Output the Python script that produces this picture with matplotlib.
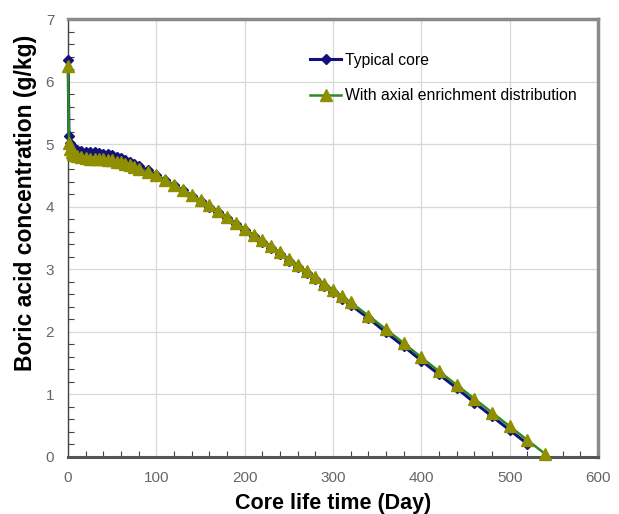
import matplotlib
matplotlib.use("Agg")
import matplotlib.pyplot as plt
from matplotlib.ticker import MultipleLocator

days_typical = [0, 1, 2, 4, 6, 8, 10, 15, 20, 25, 30, 35, 40, 45, 50, 55, 60, 65, 70, 75, 80,
                90, 100, 110, 120, 130, 140, 150, 160, 170, 180, 190, 200, 210, 220, 230, 240,
                250, 260, 270, 280, 290, 300, 310, 320, 340, 360, 380, 400, 420, 440, 460, 480,
                500, 520]
boric_typical = [6.35, 5.13, 5.02, 4.97, 4.94, 4.92, 4.91, 4.89, 4.88, 4.87, 4.87, 4.86, 4.85,
                 4.84, 4.82, 4.80, 4.78, 4.75, 4.72, 4.68, 4.65, 4.58, 4.50, 4.42, 4.34, 4.26,
                 4.17, 4.09, 4.00, 3.91, 3.82, 3.72, 3.62, 3.53, 3.43, 3.34, 3.24, 3.14, 3.04,
                 2.94, 2.84, 2.74, 2.63, 2.53, 2.43, 2.22, 1.99, 1.77, 1.54, 1.32, 1.10, 0.87,
                 0.65, 0.43, 0.21]

days_axial = [0, 1, 2, 4, 6, 8, 10, 15, 20, 25, 30, 35, 40, 45, 50, 55, 60, 65, 70, 75, 80,
              90, 100, 110, 120, 130, 140, 150, 160, 170, 180, 190, 200, 210, 220, 230, 240,
              250, 260, 270, 280, 290, 300, 310, 320, 340, 360, 380, 400, 420, 440, 460, 480,
              500, 520, 540]
boric_axial = [6.25, 5.02, 4.93, 4.88, 4.85, 4.83, 4.81, 4.79, 4.78, 4.77, 4.77, 4.76, 4.76,
               4.75, 4.74, 4.72, 4.71, 4.69, 4.67, 4.64, 4.61, 4.56, 4.50, 4.43, 4.35, 4.27,
               4.19, 4.10, 4.02, 3.93, 3.84, 3.74, 3.65, 3.55, 3.46, 3.37, 3.27, 3.17, 3.07,
               2.97, 2.87, 2.77, 2.67, 2.57, 2.47, 2.26, 2.04, 1.82, 1.59, 1.37, 1.15, 0.93,
               0.71, 0.49, 0.27, 0.05]

xticks = [0, 100, 200, 300, 400, 500, 600]
yticks = [0, 1, 2, 3, 4, 5, 6, 7]

plt.rcParams['font.family'] = ['Liberation Sans', 'DejaVu Sans']

fig = plt.figure(figsize=(6.19, 5.14), dpi=100)
ax = fig.add_axes([0.110, 0.111, 0.856, 0.852])

ax.plot(days_typical, boric_typical, color='#12127a', lw=2.2, marker='D', ms=4.8,
        mfc='#12127a', mec='#12127a', label='Typical core', zorder=3, clip_on=False)
ax.plot(days_axial, boric_axial, color='#2e8b22', lw=1.8, marker='^', ms=8,
        mfc='#8f8f00', mec='#8f8f00', label='With axial enrichment distribution',
        zorder=4, clip_on=False)

ax.set_xlim(0, 600)
ax.set_ylim(0, 7)
ax.set_xticks(xticks)
ax.set_yticks(yticks)
ax.xaxis.set_minor_locator(MultipleLocator(20))
ax.yaxis.set_minor_locator(MultipleLocator(0.2))
ax.grid(True, which='major', color='#d8d8d8', lw=0.9, zorder=0)
ax.set_axisbelow(True)

ax.tick_params(which='both', direction='in', top=False, right=False,
               colors='#444444', labelcolor='#666666')
ax.tick_params(which='major', length=0)
ax.tick_params(axis='x', which='major', pad=10)
ax.tick_params(axis='y', which='major', pad=10)
ax.tick_params(which='minor', length=4, width=0.8)
for lab in ax.get_xticklabels() + ax.get_yticklabels():
    lab.set_fontsize(11)

for side in ['top', 'right']:
    ax.spines[side].set_color('#8a8a8a')
    ax.spines[side].set_linewidth(2.5)
ax.spines['bottom'].set_color('#555555')
ax.spines['bottom'].set_linewidth(2.2)
ax.spines['left'].set_color('#444444')
ax.spines['left'].set_linewidth(1.0)

ax.set_xlabel('Core life time (Day)', fontsize=15.5, fontweight='bold')
ax.set_ylabel('Boric acid concentration (g/kg)', fontsize=16.5, fontweight='bold')
ax.xaxis.set_label_coords(0.5, -0.083)
ax.yaxis.set_label_coords(-0.058, 0.58)

leg = ax.legend(loc='upper left', bbox_to_anchor=(0.43, 0.955), frameon=False,
                fontsize=11.3, handlelength=2.0, labelspacing=1.3, handletextpad=0.2)

fig.savefig('out.png', dpi=100)
